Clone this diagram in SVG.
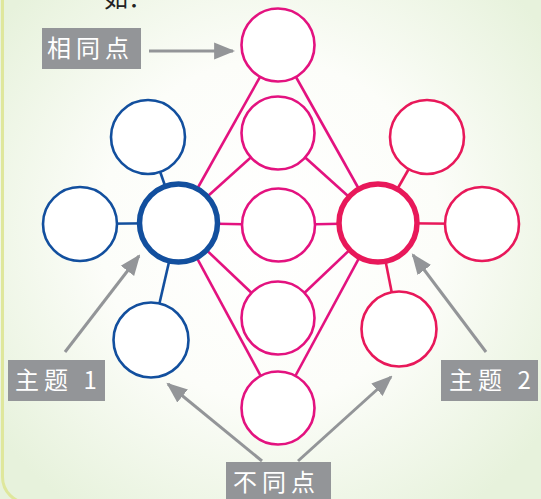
<svg xmlns="http://www.w3.org/2000/svg" width="541" height="499" viewBox="0 0 541 499">
<defs>
<radialGradient id="bg" cx="270" cy="230" r="340" gradientUnits="userSpaceOnUse">
<stop offset="0" stop-color="#ffffff"/>
<stop offset="0.5" stop-color="#fcfdf9"/>
<stop offset="1" stop-color="#e7f2dc"/>
</radialGradient>
<marker id="ahs" viewBox="0 0 10 10" refX="9" refY="5" markerWidth="7" markerHeight="7" orient="auto">
<path d="M0,1 L10,5 L0,9 z" fill="#939598"/>
</marker>
</defs>
<style>
.n circle{fill:#fff}
.blue{stroke:#124f9e;stroke-width:2.6}
.red{stroke:#e8185a;stroke-width:2.6}
.mag{stroke:#e3127f;stroke-width:2.6}
.mainB{stroke:#124f9e;stroke-width:5.5}
.mainR{stroke:#e8185a;stroke-width:5.5}
.lb line.b{stroke:#124f9e;stroke-width:2.6}
.lb line.r{stroke:#e8185a;stroke-width:2.6}
.lb line.m{stroke:#e3127f;stroke-width:2.6}
.arr{stroke:#939598;stroke-width:3;fill:none;marker-end:url(#ahs)}
.box{fill:#939598}
.lbl{fill:#fff;font-family:"Noto Sans CJK SC","Noto Sans",sans-serif;font-size:24px;letter-spacing:5px}
</style>
<rect x="0" y="0" width="541" height="499" fill="url(#bg)"/>
<rect x="2.5" y="-30" width="620" height="533" rx="26" fill="none" stroke="#dfe79c" stroke-width="3"/>
<text x="104" y="7" font-family="'Noto Sans CJK SC',sans-serif" font-size="24" fill="#222">如：</text>

<g id="connectors" class="lb">
<line class="b" x1="178" y1="223" x2="148" y2="137"/>
<line class="b" x1="178" y1="223" x2="80" y2="224"/>
<line class="b" x1="178" y1="223" x2="151" y2="340"/>
<line class="r" x1="378" y1="223" x2="427" y2="137"/>
<line class="r" x1="378" y1="223" x2="482" y2="224"/>
<line class="r" x1="378" y1="223" x2="399" y2="329"/>
<line class="m" x1="178" y1="223" x2="278" y2="45"/>
<line class="m" x1="178" y1="223" x2="278" y2="133"/>
<line class="m" x1="178" y1="223" x2="278" y2="225"/>
<line class="m" x1="178" y1="223" x2="278" y2="318"/>
<line class="m" x1="178" y1="223" x2="278" y2="408"/>
<line class="m" x1="378" y1="223" x2="278" y2="45"/>
<line class="m" x1="378" y1="223" x2="278" y2="133"/>
<line class="m" x1="378" y1="223" x2="278" y2="225"/>
<line class="m" x1="378" y1="223" x2="278" y2="318"/>
<line class="m" x1="378" y1="223" x2="278" y2="408"/>
<line class="arr" x1="149" y1="51" x2="233" y2="51"/>
<line class="arr" x1="65" y1="352" x2="139" y2="256"/>
<line class="arr" x1="486" y1="352" x2="413" y2="255"/>
<line class="arr" x1="262" y1="461" x2="168" y2="384"/>
<line class="arr" x1="298" y1="461" x2="391" y2="377"/>
</g>

<g id="c-top" class="n"><circle class="mag" cx="278" cy="45" r="36.5"/></g>
<g id="c-2" class="n"><circle class="mag" cx="278" cy="133" r="36.5"/></g>
<g id="c-mid" class="n"><circle class="mag" cx="278.5" cy="225" r="36.5"/></g>
<g id="c-4" class="n"><circle class="mag" cx="278" cy="318" r="36.5"/></g>
<g id="c-bot" class="n"><circle class="mag" cx="278" cy="408" r="36.5"/></g>
<g id="b-main" class="n"><circle class="mainB" cx="178.5" cy="223" r="39"/></g>
<g id="r-main" class="n"><circle class="mainR" cx="378" cy="223" r="39"/></g>
<g id="b-tl" class="n"><circle class="blue" cx="148" cy="137" r="37"/></g>
<g id="b-l" class="n"><circle class="blue" cx="80" cy="224" r="37"/></g>
<g id="b-bl" class="n"><circle class="blue" cx="151" cy="340" r="37.5"/></g>
<g id="r-tr" class="n"><circle class="red" cx="427" cy="137" r="37"/></g>
<g id="r-r" class="n"><circle class="red" cx="482" cy="224" r="37"/></g>
<g id="r-br" class="n"><circle class="red" cx="399" cy="329" r="37.5"/></g>

<g id="l-same"><rect class="box" x="42" y="28" width="99" height="41"/><text class="lbl" x="47" y="57">相同点</text></g>
<g id="l-t1"><rect class="box" x="8" y="360" width="97" height="41"/><text class="lbl" x="15" y="389">主题 1</text></g>
<g id="l-t2"><rect class="box" x="441" y="360" width="97" height="41"/><text class="lbl" x="449" y="389">主题 2</text></g>
<g id="l-diff"><rect class="box" x="226" y="462" width="105" height="40"/><text class="lbl" x="233" y="491">不同点</text></g>
</svg>
